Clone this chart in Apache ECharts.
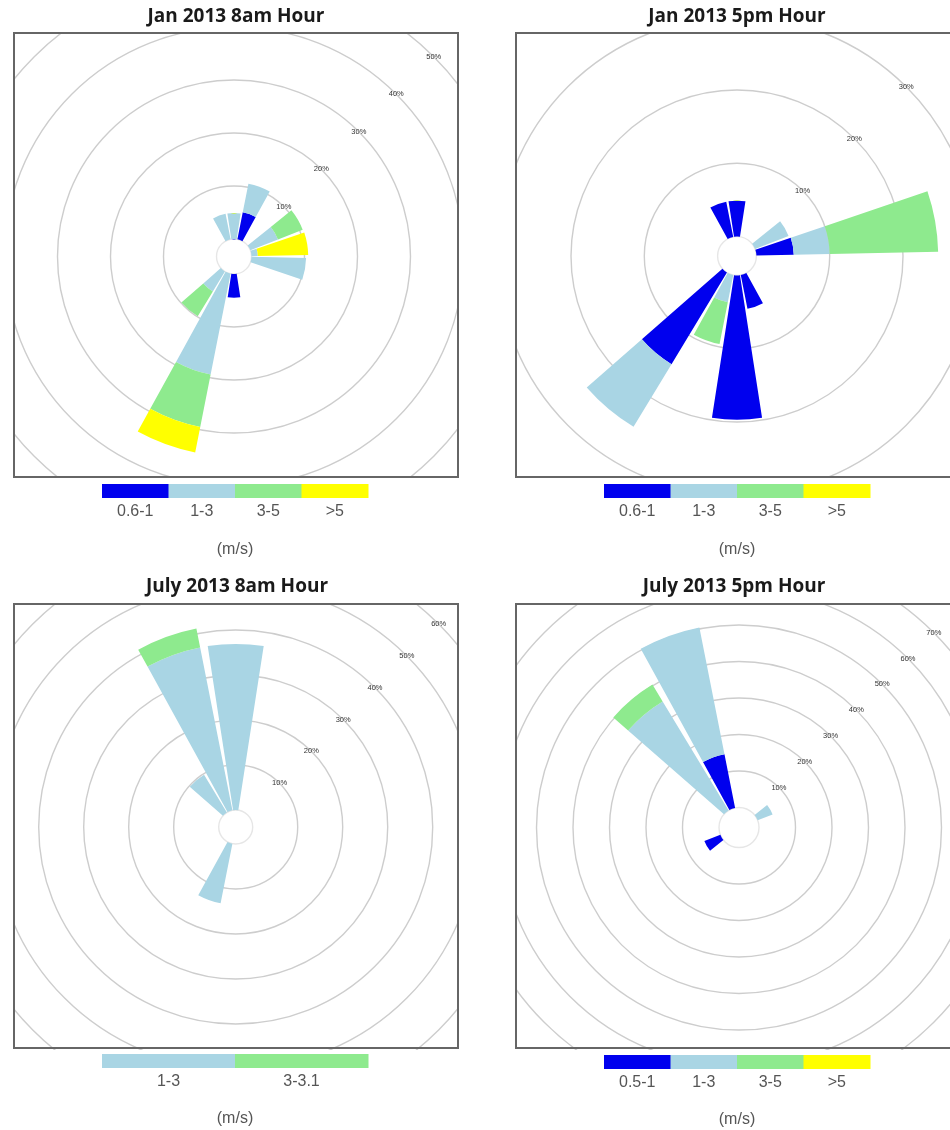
<!DOCTYPE html>
<html>
<head>
<meta charset="utf-8">
<script src="https://cdn.jsdelivr.net/npm/echarts@6.0.0/dist/echarts.min.js"></script>
<style>
html,body{margin:0;padding:0;width:950px;height:1130px;overflow:hidden;background:#fff;}
#bg{position:absolute;left:0;top:0;width:950px;height:1130px;}
.panel{position:absolute;}
</style>
</head>
<body>
<div id="bg"></div>
<div id="p1" class="panel" style="left:13px;top:32px;width:446px;height:446px"></div>
<div id="p2" class="panel" style="left:515px;top:32px;width:435px;height:446px"></div>
<div id="p3" class="panel" style="left:13px;top:603px;width:446px;height:447px"></div>
<div id="p4" class="panel" style="left:515px;top:603px;width:435px;height:447px"></div>
<script>
// ---------- data ----------
// 18 wind-direction sectors of 20 degrees (compass bearing of sector centre)
const directions = ['0','20','40','60','80','100','120','140','160','180','200','220','240','260','280','300','320','340'];

const panelTitles = ['Jan 2013 8am Hour', 'Jan 2013 5pm Hour', 'July 2013 8am Hour', 'July 2013 5pm Hour'];
const unitLabel = '(m/s)';

// speed-bin labels per panel
const janBins   = ['0.6-1', '1-3', '3-5', '>5'];
const jul8Bins  = ['1-3', '3-3.1'];
const jul5Bins  = ['0.5-1', '1-3', '3-5', '>5'];

// frequency (%) per direction, stacked by speed bin
//                  0    20   40   60   80   100  120 140 160  180  200   220  240 260 280 300 320  340
const jan8_bin1 = [0,   5.2, 0,   0,   0,   0,   0,  0,  0,   4.5, 0,    0,   0,  0,  0,  0,  0,   0];
const jan8_bin2 = [4.9, 5.5, 0,   5.6, 1.2, 10.3,0,  0,  0,   0,   19.4, 4.4, 0,  0,  0,  0,  0,   4.9];
const jan8_bin3 = [0,   0,   0,   5.0, 0,   0,   0,  0,  0,   0,   10.1, 5.5, 0,  0,  0,  0,  0,   0];
const jan8_bin4 = [0,   0,   0,   0,   9.5, 0,   0,  0,  0,   0,   4.9,  0,   0,  0,  0,  0,  0,   0];

const jan5_bin1 = [4.9, 0,   0,   0,   5.1, 0,   0,  0,  4.7, 19.7,0,    14.6,0,  0,  0,  0,  0,   4.9];
const jan5_bin2 = [0,   0,   0,   4.9, 4.9, 0,   0,  0,  0,   0,   3.8,  10.0,0,  0,  0,  0,  0,   0];
const jan5_bin3 = [0,   0,   0,   0,   14.8,0,   0,  0,  0,   0,   5.8,  0,   0,  0,  0,  0,  0,   0];
const jan5_bin4 = [0,   0,   0,   0,   0,   0,   0,  0,  0,   0,   0,    0,   0,  0,  0,  0,  0,   0];

const jul8_bin1 = [36.9,0,   0,   0,   0,   0,   0,  0,  0,   0,   13.5, 0,   0,  0,  0,  0,  9.8, 36.9];
const jul8_bin2 = [0,   0,   0,   0,   0,   0,   0,  0,  0,   0,   0,    0,   0,  0,  0,  0,  0,   4.3];

const jul5_bin1 = [0,   0,   0,   0,   0,   0,   0,  0,  0,   0,   0,    0,   4.7,0,  0,  0,  0,   15.0];
const jul5_bin2 = [0,   0,   0,   4.4, 0,   0,   0,  0,  0,   0,   0,    0,   0,  0,  0,  0,  34.9,35.4];
const jul5_bin3 = [0,   0,   0,   0,   0,   0,   0,  0,  0,   0,   0,    0,   0,  0,  0,  0,  5.4, 0];
const jul5_bin4 = [0,   0,   0,   0,   0,   0,   0,  0,  0,   0,   0,    0,   0,  0,  0,  0,  0,   0];

// radial tick labels per panel
const jan8Ticks = ['10%', '20%', '30%', '40%', '50%'];
const jan5Ticks = ['10%', '20%', '30%'];
const jul8Ticks = ['10%', '20%', '30%', '40%', '50%', '60%'];
const jul5Ticks = ['10%', '20%', '30%', '40%', '50%', '60%', '70%'];

// ---------- styling ----------
const C_BLUE = '#0000EE', C_LBLUE = '#A9D5E4', C_LGREEN = '#8EEA8E', C_YELLOW = '#FFFF00';
const janColors  = [C_BLUE, C_LBLUE, C_LGREEN, C_YELLOW];
const jul8Colors = [C_LBLUE, C_LGREEN];

function makePanel(domId, cfg) {
  const chart = echarts.init(document.getElementById(domId), null, {renderer: 'canvas'});
  const outer = cfg.hole + cfg.scale * cfg.max;
  const ringColors = ['#e6e6e6'].concat(cfg.ticks.map(() => '#cdcdcd'));
  const series = cfg.data.map((d, i) => ({
    type: 'bar', coordinateSystem: 'polar', polarIndex: 0, stack: 'speed',
    data: d, barCategoryGap: '12%', silent: true, z: 2,
    itemStyle: {color: cfg.colors[i]}
  }));
  chart.setOption({
    animation: false,
    backgroundColor: '#fff',
    polar: [
      {center: cfg.center, radius: [cfg.hole, outer]},
      {center: cfg.center, radius: [cfg.hole, outer]}
    ],
    angleAxis: [
      {polarIndex: 0, type: 'category', data: directions, startAngle: 100, clockwise: true,
       boundaryGap: true, axisLine: {show: false}, axisTick: {show: false}, axisLabel: {show: false},
       splitLine: {show: false}, splitArea: {show: false}},
      {polarIndex: 1, type: 'value', min: 0, max: 360, startAngle: 45, show: false}
    ],
    radiusAxis: [
      {polarIndex: 0, type: 'value', min: 0, max: cfg.max, interval: 10,
       axisLine: {show: false}, axisTick: {show: false}, axisLabel: {show: false},
       splitLine: {show: true, lineStyle: {color: ringColors, width: 1.4}}, z: 0},
      {polarIndex: 1, type: 'value', min: 0, max: cfg.max, interval: 10,
       axisLine: {show: false}, axisTick: {show: false}, splitLine: {show: false},
       axisLabel: {show: true, margin: 0, align: 'center', verticalAlign: 'middle',
         fontSize: 7.5, color: '#333', fontFamily: 'Liberation Sans',
         formatter: v => (v === 0 ? '' : (cfg.ticks[Math.round(v / 10) - 1] || ''))},
       z: 10}
    ],
    series: series,
    graphic: [{type: 'rect', shape: {x: 1, y: 1, width: 444, height: 444},
               style: {fill: 'none', stroke: '#666', lineWidth: 2}, z: 100, silent: true}]
  });
}

makePanel('p1', {center: [221, 224.5], hole: 17.5, scale: 5.3, max: 50, ticks: jan8Ticks,
  data: [jan8_bin1, jan8_bin2, jan8_bin3, jan8_bin4], colors: janColors});
makePanel('p2', {center: [222, 224], hole: 19.4, scale: 7.33, max: 30, ticks: jan5Ticks,
  data: [jan5_bin1, jan5_bin2, jan5_bin3, jan5_bin4], colors: janColors});
makePanel('p3', {center: [222.7, 224], hole: 17, scale: 4.5, max: 60, ticks: jul8Ticks,
  data: [jul8_bin1, jul8_bin2], colors: jul8Colors});
makePanel('p4', {center: [224, 224.5], hole: 20, scale: 3.65, max: 70, ticks: jul5Ticks,
  data: [jul5_bin1, jul5_bin2, jul5_bin3, jul5_bin4], colors: janColors});

// ---------- titles and colour-bar legends ----------
const bg = echarts.init(document.getElementById('bg'), null, {renderer: 'canvas'});
const gfx = [];
const titlePos = [[236, 17], [737, 17], [237, 587], [734, 587]];
panelTitles.forEach((t, i) => {
  gfx.push({type: 'text', x: titlePos[i][0], y: titlePos[i][1],
    style: {text: t, fill: '#1a1a1a', font: 'bold 19px "Open Sans"', textAlign: 'center', textVerticalAlign: 'middle'}});
});
function legend(x0, y0, w, h, bins, colors, labelY, unitY) {
  const seg = w / bins.length;
  bins.forEach((b, i) => {
    gfx.push({type: 'rect', shape: {x: x0 + i * seg, y: y0, width: seg + 0.5, height: h}, style: {fill: colors[i]}});
    gfx.push({type: 'text', x: x0 + (i + 0.5) * seg, y: labelY,
      style: {text: b, fill: '#555', font: '16px "Liberation Sans"', textAlign: 'center', textVerticalAlign: 'middle'}});
  });
  gfx.push({type: 'text', x: x0 + w / 2, y: unitY,
    style: {text: unitLabel, fill: '#555', font: '16px "Liberation Sans"', textAlign: 'center', textVerticalAlign: 'middle'}});
}
legend(102, 484, 266, 14, janBins, janColors, 512, 550);
legend(604, 484, 266, 14, janBins, janColors, 512, 550);
legend(102, 1054, 266, 14, jul8Bins, jul8Colors, 1082, 1119);
legend(604, 1055, 266, 14, jul5Bins, janColors, 1083, 1120);

bg.setOption({animation: false, backgroundColor: '#fff', graphic: gfx});
</script>
</body>
</html>
